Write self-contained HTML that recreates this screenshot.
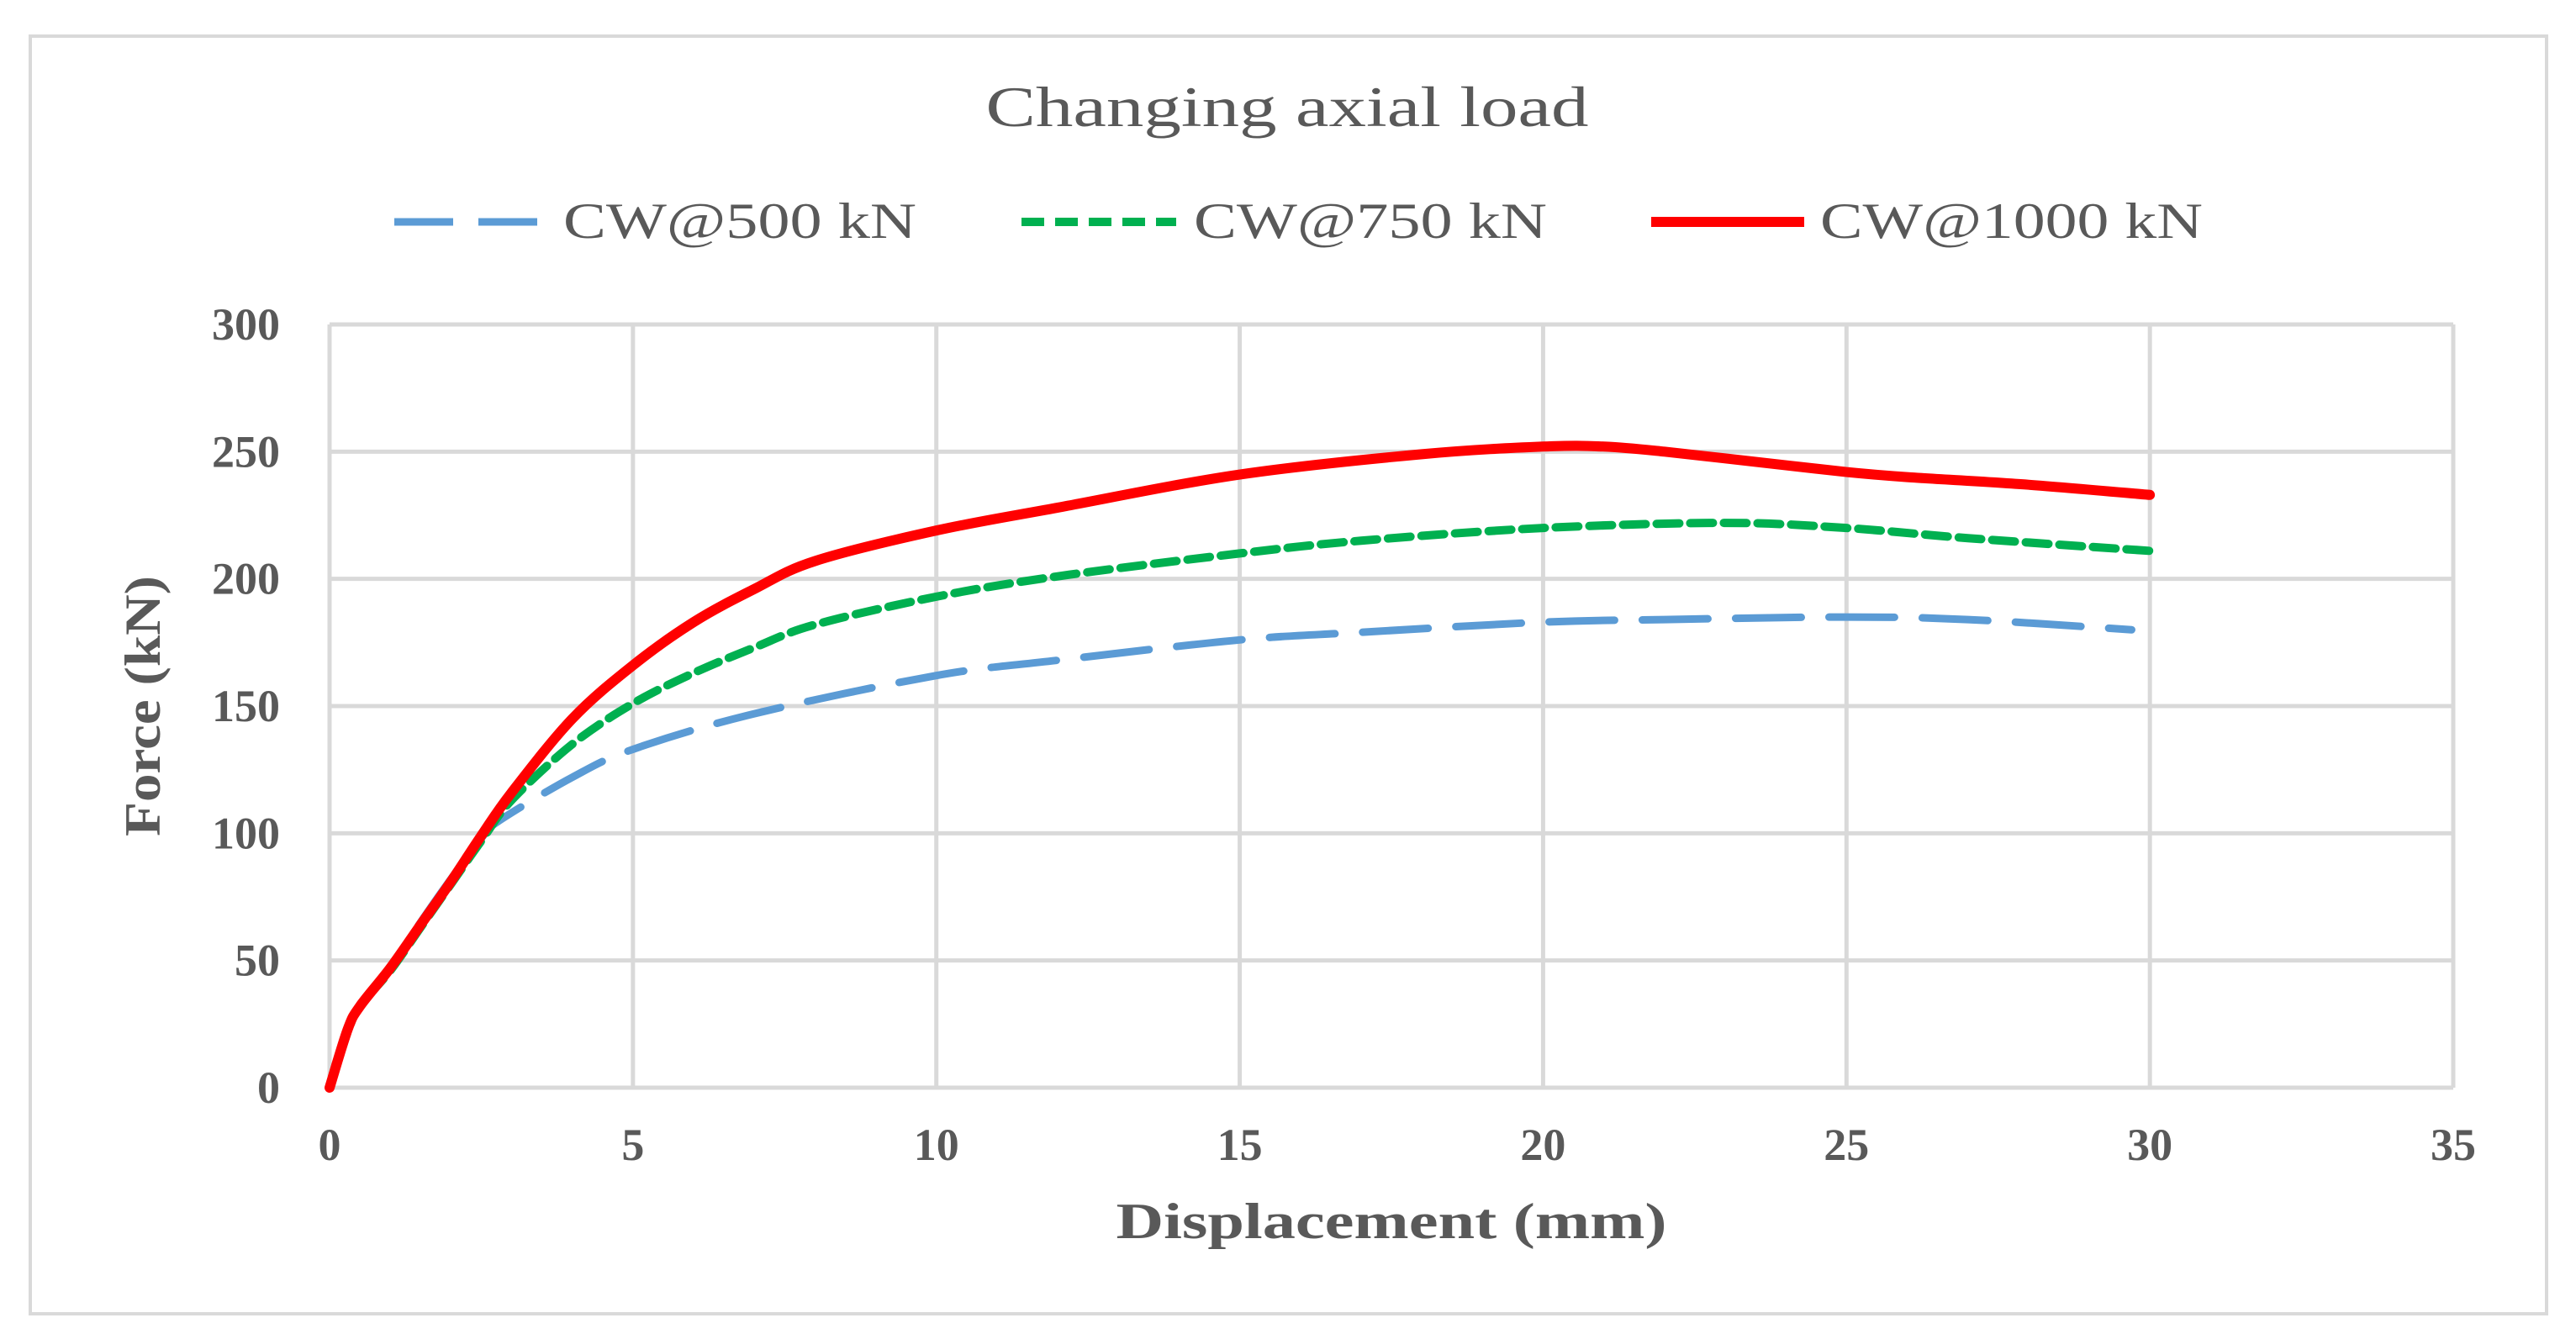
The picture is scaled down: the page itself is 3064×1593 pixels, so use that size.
<!DOCTYPE html>
<html><head><meta charset="utf-8"><style>
html,body{margin:0;padding:0;background:#fff;}
svg{display:block;}
text{font-family:"Liberation Serif",serif;fill:#595959;}
</style></head><body>
<svg id="chart" width="3064" height="1593" viewBox="0 0 3064 1593" xmlns="http://www.w3.org/2000/svg">
<rect x="36" y="43" width="2993" height="1520" fill="#fff" stroke="#d9d9d9" stroke-width="4"/>
<text x="1531" y="150" font-size="68" text-anchor="middle" textLength="717" lengthAdjust="spacingAndGlyphs">Changing axial load</text>
<g id="legend"></g>
<g id="grid"></g>
<g id="series"></g>
<g id="ticks"></g>
<text x="1655" y="1473" font-size="60" font-weight="bold" text-anchor="middle" textLength="655" lengthAdjust="spacingAndGlyphs">Displacement (mm)</text>
<text transform="translate(190,840) rotate(-90)" font-size="60" font-weight="bold" text-anchor="middle" textLength="310" lengthAdjust="spacingAndGlyphs">Force (kN)</text>
</svg>
<script>
const xTicks = [0,5,10,15,20,25,30,35];
const yTicks = [0,50,100,150,200,250,300];
const seriesNames = ["CW@500 kN","CW@750 kN","CW@1000 kN"];
const xs500 = [0,0.3,0.5,1,1.5,2,2.5,2.8,4,5,7,10,12,15,17,20,22,25,27,29.7];
const ys500 = [0,22,32,47,65,82,98,105,122,133,147,162,168,176,179,183,184,185,184,180];
const xs750 = [0,0.3,0.5,1,1.5,2,2.5,3,4,5,6,7,8,10,12,15,17,20,23,25,27,30];
const ys750 = [0,22,32,46,63,80,97,113,135,151,163,173,182,193,201,210,215,220,222,220,216,211];
const xs1000 = [0,0.3,0.5,1,1.5,2,2.5,3,4,5,6,7,8,10,12,15,18,20,21,22,23.5,25,26,28,30];
const ys1000 = [0,23,32,47,64,81,99,116,145,166,183,196,207,219,228,241,249,252,252,250,246,242,240,237,233];

const NS="http://www.w3.org/2000/svg";
const X0=392, X1=2918, Y0=1294, Y1=386;
const sx = v => X0 + (v-0)/(35-0)*(X1-X0);
const sy = v => Y0 - (v-0)/(300-0)*(Y0-Y1);
function mk(tag, attrs, parent){const e=document.createElementNS(NS,tag);for(const k in attrs)e.setAttribute(k,attrs[k]);parent.appendChild(e);return e;}
const grid=document.getElementById('grid'), ticks=document.getElementById('ticks'), series=document.getElementById('series'), legend=document.getElementById('legend');
xTicks.forEach(t=>{
  const l=mk('line',{x1:sx(t),x2:sx(t),y1:Y1,y2:Y0,stroke:'#d9d9d9','stroke-width':5},grid);
  
  
  const tx=mk('text',{x:sx(t),y:1380,'font-size':54,'font-weight':'bold','text-anchor':'middle'},ticks);
  tx.textContent=t;
  
  
});
yTicks.forEach(t=>{
  const l=mk('line',{x1:X0,x2:X1,y1:sy(t),y2:sy(t),stroke:'#d9d9d9','stroke-width':5},grid);
  
  
  const tx=mk('text',{x:333,y:sy(t)+18,'font-size':54,'font-weight':'bold','text-anchor':'end'},ticks);
  tx.textContent=t;
  
  
});
function pathFor(xs,ys){
  const p=xs.map((x,i)=>[sx(x),sy(ys[i])]);
  let d='M'+p[0][0]+','+p[0][1];
  for(let i=0;i<p.length-1;i++){
    const a=p[i-1]||p[i], b=p[i], c=p[i+1], e=p[i+2]||c;
    const c1=[b[0]+(c[0]-a[0])/6, b[1]+(c[1]-a[1])/6];
    const c2=[c[0]-(e[0]-b[0])/6, c[1]-(e[1]-b[1])/6];
    d+=' C'+c1[0]+','+c1[1]+' '+c2[0]+','+c2[1]+' '+c[0]+','+c[1];
  }
  return d;
}
const styles=[
  {color:'#5b9bd5',w:9,dash:'78 33',cap:'round'},
  {color:'#00b050',w:10,dash:'27 13',cap:'round'},
  {color:'#ff0000',w:12,dash:'none',cap:'round'}];
const data=[[xs500,ys500],[xs750,ys750],[xs1000,ys1000]];
const names=['line-cw500','line-cw750','line-cw1000'];
data.forEach((d,i)=>{
  const s=styles[i];
  const p=mk('path',{d:pathFor(d[0],d[1]),fill:'none',stroke:s.color,'stroke-width':s.w,'stroke-dasharray':s.dash,'stroke-linecap':s.cap,'stroke-linejoin':'round'},series);
  
  
});
const legX=[[469,651,670,420],[1215,1399,1420,420],[1964,2146,2165,455]];
const legNames=['legend-entry-cw500','legend-entry-cw750','legend-entry-cw1000'];
legX.forEach((L,i)=>{
  const s=styles[i];
  const g=mk('g',{},legend);
  
  
  mk('line',{x1:L[0],x2:L[1],y1:264,y2:264,stroke:s.color,'stroke-width':s.w,'stroke-dasharray':s.dash==='none'?'none':(i===0?'70 30':s.dash)},g);
  const t=mk('text',{x:L[2],y:283,'font-size':60,textLength:L[3],lengthAdjust:'spacingAndGlyphs'},g);
  t.textContent=seriesNames[i];
});
</script>
</body></html>
